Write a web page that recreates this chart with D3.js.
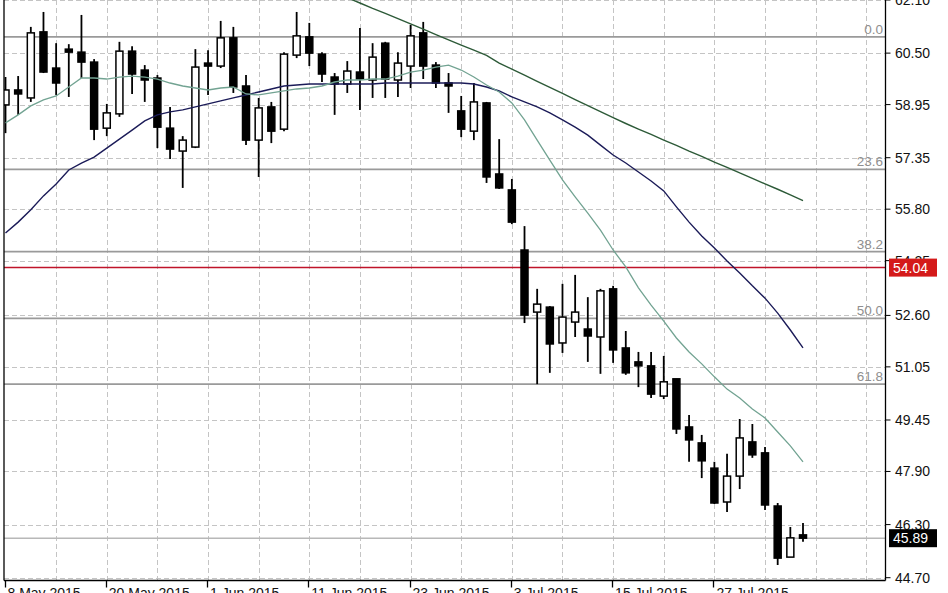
<!DOCTYPE html>
<html><head><meta charset="utf-8">
<script src="https://cdn.jsdelivr.net/npm/d3@7"></script>
<style>html,body{margin:0;padding:0;background:#fff;overflow:hidden}svg{display:block}</style>
</head><body>
<script>
// ---- data ----
const open = [58.94,59.39,59.15,61.14,60.05,60.62,60.53,60.23,58.24,58.67,
60.56,59.99,59.75,58.24,57.55,57.67,60.20,60.11,60.96,59.51,
57.88,58.88,58.21,60.44,60.99,60.47,59.78,59.57,59.93,59.69,
60.80,59.69,60.11,61.11,60.14,59.60,58.76,58.15,59.00,56.86,
56.38,54.57,52.70,52.85,51.77,52.40,52.19,51.95,53.40,51.62,
51.20,51.08,50.17,50.69,49.24,48.76,48.00,46.98,47.76,48.79,
48.46,46.86,45.32,45.99];
const high = [59.78,59.81,61.29,61.74,60.80,60.77,61.65,60.32,58.97,60.84,
60.71,60.14,59.84,58.88,58.00,60.62,60.59,61.47,61.29,59.84,
59.15,59.03,60.53,61.74,61.41,60.53,59.90,60.26,61.26,60.80,
60.84,60.53,61.35,61.44,60.23,59.90,59.21,59.60,59.03,57.91,
56.71,55.29,53.40,52.88,53.55,53.82,53.15,53.40,53.49,52.13,
51.50,51.50,51.38,50.69,49.60,49.00,48.19,48.43,49.48,49.33,
48.64,46.95,46.23,46.35];
const low = [58.09,58.64,59.03,59.90,59.24,59.18,59.75,57.88,58.00,58.58,
59.27,59.03,57.64,57.31,56.44,57.64,59.24,60.05,59.30,57.73,
56.77,57.79,58.15,60.35,60.11,59.63,58.64,59.30,58.79,59.15,
59.15,59.18,59.45,59.72,59.45,58.70,57.97,57.88,56.59,56.41,
55.35,52.37,50.53,50.87,51.47,51.95,51.20,50.84,51.17,50.81,
50.44,50.11,50.08,49.03,48.19,47.70,46.92,46.68,47.37,48.31,
46.74,45.08,45.32,45.78];
const close = [59.39,59.27,61.11,59.93,59.60,60.53,60.23,58.21,58.70,60.56,
59.87,59.69,58.27,57.61,57.88,60.08,60.11,60.96,59.48,57.88,
58.85,58.15,60.47,61.02,60.50,59.87,59.57,59.96,59.72,60.38,
59.72,60.20,61.02,60.11,59.60,59.51,58.21,59.03,56.77,56.44,
55.41,52.61,52.94,51.74,52.55,52.70,51.98,53.34,51.56,50.87,
51.08,50.23,50.60,49.18,48.85,48.22,46.95,47.76,48.91,48.40,
46.89,45.29,45.90,45.89];

const maFast = [58.40,58.64,58.91,59.09,59.21,59.48,59.75,59.75,59.72,59.78,
59.81,59.78,59.72,59.60,59.51,59.45,59.39,59.45,59.48,59.27,
59.24,59.30,59.36,59.42,59.45,59.51,59.63,59.69,59.69,59.72,
59.72,59.81,59.93,59.99,60.08,60.14,59.99,59.78,59.54,59.33,
59.00,58.49,57.88,57.28,56.68,56.17,55.68,55.17,54.57,54.06,
53.43,52.91,52.43,51.92,51.50,51.14,50.75,50.38,50.11,49.78,
49.51,49.09,48.67,48.19];
const maMid = [55.08,55.41,55.78,56.20,56.56,56.98,57.19,57.37,57.64,57.91,
58.18,58.46,58.64,58.73,58.79,58.88,58.97,59.06,59.15,59.24,
59.33,59.42,59.51,59.54,59.57,59.57,59.57,59.57,59.57,59.57,
59.60,59.60,59.60,59.60,59.60,59.60,59.60,59.57,59.48,59.36,
59.18,59.03,58.88,58.70,58.49,58.27,58.03,57.73,57.43,57.19,
56.92,56.65,56.35,55.87,55.41,54.99,54.63,54.24,53.88,53.49,
53.12,52.67,52.16,51.62];
const maSlow = [null,null,null,null,null,null,null,null,null,null,
null,null,null,null,null,null,null,null,null,null,
null,null,null,null,null,null,null,62.17,62.01,61.85,
61.70,61.54,61.38,61.22,61.06,60.90,60.74,60.59,60.43,60.20,
60.02,59.84,59.65,59.47,59.29,59.10,58.92,58.74,58.56,58.38,
58.21,58.05,57.88,57.72,57.55,57.39,57.22,57.06,56.89,56.73,
56.56,56.40,56.23,56.06];

const yTicks = [62.10,60.50,58.95,57.35,55.80,54.25,52.60,51.05,49.45,47.90,46.30,44.70];
const xTickIdx = [0,8,16,24,32,40,48,56];
const xTickLabels = ["8 May 2015","20 May 2015","1 Jun 2015","11 Jun 2015","23 Jun 2015","3 Jul 2015","15 Jul 2015","27 Jul 2015"];
const fibLabels = ["0.0","23.6","38.2","50.0","61.8"];
const fibPrices = [60.99,57.00,54.52,52.51,50.53];
const markedLevel = 54.04;
const lastPrice = 45.89;

// ---- layout ----
const W = 948, H = 593;
const L = 4, R = 885.5, T = 0, B = 580.5;
const FONT = "'Liberation Sans', Arial, sans-serif";

const x = d3.scaleLinear().domain([0, 63]).range([5.5, 803]);
const y = d3.scaleLinear().domain([62.10, 44.70]).range([0, 577.7]);

const svg = d3.select("body").append("svg").attr("width", W).attr("height", H);
svg.append("rect").attr("width", W).attr("height", H).attr("fill", "#fff");

svg.append("defs").append("clipPath").attr("id", "plot")
  .append("rect").attr("x", L).attr("y", T).attr("width", R - L).attr("height", B - T);

const plot = svg.append("g").attr("clip-path", "url(#plot)");

// vertical dashed grid every 4 bars
const vIdx = d3.range(4, 70, 4);
plot.selectAll("line.vg").data(vIdx).enter().append("line")
  .attr("x1", d => Math.round(x(d)) + 0.5).attr("x2", d => Math.round(x(d)) + 0.5)
  .attr("y1", T).attr("y2", B)
  .attr("stroke", "#c4c4c4").attr("stroke-width", 1).attr("stroke-dasharray", "5,3");

// horizontal dashed grid at y ticks
plot.selectAll("line.hg").data(yTicks).enter().append("line")
  .attr("x1", L).attr("x2", R)
  .attr("y1", d => Math.round(y(d)) + 0.5).attr("y2", d => Math.round(y(d)) + 0.5)
  .attr("stroke", "#c4c4c4").attr("stroke-width", 1).attr("stroke-dasharray", "5,3");

// fib levels
plot.selectAll("line.fib").data(fibPrices).enter().append("line")
  .attr("x1", L).attr("x2", R).attr("y1", d => y(d)).attr("y2", d => y(d))
  .attr("stroke", "#9a9a9a").attr("stroke-width", 1.6);
plot.selectAll("text.fib").data(fibPrices).enter().append("text")
  .attr("x", 883).attr("y", d => y(d) - 3).attr("text-anchor", "end")
  .attr("font-family", FONT).attr("font-size", 13.5).attr("fill", "#8f8f8f")
  .text((d, i) => fibLabels[i]);

// marked level & last price line
plot.append("line").attr("x1", L).attr("x2", R).attr("y1", y(markedLevel)).attr("y2", y(markedLevel))
  .attr("stroke", "#c0142a").attr("stroke-width", 1.5);
plot.append("line").attr("x1", L).attr("x2", R).attr("y1", y(lastPrice)).attr("y2", y(lastPrice))
  .attr("stroke", "#b8b8b8").attr("stroke-width", 1.5);

// candles
const idx = d3.range(open.length);
const bw = 7;
const cg = plot.append("g");
cg.selectAll("line.wick").data(idx).enter().append("line")
  .attr("x1", i => x(i)).attr("x2", i => x(i))
  .attr("y1", i => y(high[i])).attr("y2", i => y(low[i]))
  .attr("stroke", "#000").attr("stroke-width", 1.8);
cg.selectAll("rect.body").data(idx).enter().append("rect")
  .attr("x", i => x(i) - bw / 2)
  .attr("y", i => y(Math.max(open[i], close[i])))
  .attr("width", bw)
  .attr("height", i => Math.max(1.5, Math.abs(y(open[i]) - y(close[i]))))
  .attr("fill", i => close[i] >= open[i] ? "#fff" : "#000")
  .attr("stroke", "#000").attr("stroke-width", 1.5);

// moving averages
const mkLine = arr => d3.line().defined(i => arr[i] != null).x(i => x(i)).y(i => y(arr[i]));
plot.append("path").attr("d", mkLine(maSlow)(idx)).attr("fill", "none")
  .attr("stroke", "#2d5a38").attr("stroke-width", 1.4);
plot.append("path").attr("d", mkLine(maMid)(idx)).attr("fill", "none")
  .attr("stroke", "#1b1b58").attr("stroke-width", 1.4);
plot.append("path").attr("d", mkLine(maFast)(idx)).attr("fill", "none")
  .attr("stroke", "#72a392").attr("stroke-width", 1.3);

// frame
svg.append("line").attr("x1", L).attr("x2", L).attr("y1", 0).attr("y2", B).attr("stroke", "#000").attr("stroke-width", 1.3);
svg.append("line").attr("x1", R).attr("x2", R).attr("y1", 0).attr("y2", B).attr("stroke", "#000").attr("stroke-width", 1.3);
svg.append("line").attr("x1", L).attr("x2", R).attr("y1", B).attr("y2", B).attr("stroke", "#000").attr("stroke-width", 1.3);

// right axis ticks & labels
const ya = svg.append("g");
ya.selectAll("line").data(yTicks).enter().append("line")
  .attr("x1", R).attr("x2", R + 5).attr("y1", d => y(d)).attr("y2", d => y(d))
  .attr("stroke", "#000").attr("stroke-width", 1);
ya.selectAll("text").data(yTicks).enter().append("text")
  .attr("x", 895).attr("y", d => y(d)).attr("dy", "0.36em")
  .attr("font-family", FONT).attr("font-size", 14).attr("fill", "#111")
  .text(d => d.toFixed(2));

// price boxes
function priceBox(v, bg) {
  const yy = y(v);
  svg.append("rect").attr("x", 889).attr("y", yy - 9).attr("width", 48).attr("height", 18).attr("fill", bg);
  svg.append("text").attr("x", 893).attr("y", yy).attr("dy", "0.36em")
    .attr("font-family", FONT).attr("font-size", 14).attr("fill", "#fff").text(v.toFixed(2));
}
priceBox(markedLevel, "#d41a1a");
priceBox(lastPrice, "#000");

// bottom axis ticks & labels
const xa = svg.append("g");
xa.selectAll("line").data(xTickIdx).enter().append("line")
  .attr("x1", i => Math.round(x(i)) - 0.5).attr("x2", i => Math.round(x(i)) - 0.5)
  .attr("y1", B).attr("y2", B + 7).attr("stroke", "#000").attr("stroke-width", 1.3);
xa.selectAll("text").data(xTickIdx).enter().append("text")
  .attr("x", i => x(i) + 2).attr("y", 598)
  .attr("font-family", FONT).attr("font-size", 14).attr("fill", "#111")
  .text((d, k) => xTickLabels[k]);
</script>
</body></html>
